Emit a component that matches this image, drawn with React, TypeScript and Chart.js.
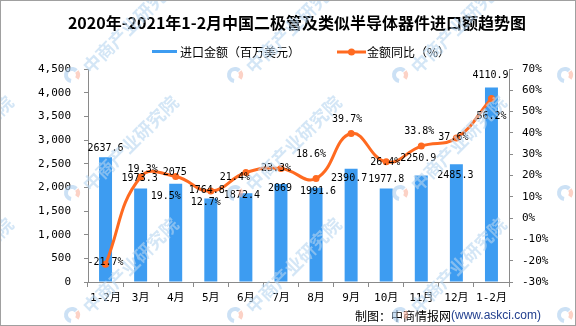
import React, { useEffect, useRef } from 'react';
import { Chart, registerables } from 'chart.js';

Chart.register(...registerables);

// ---- data ----
const categories = ['1-2月', '3月', '4月', '5月', '6月', '7月', '8月', '9月', '10月', '11月', '12月', '1-2月'];
const importValues = [2637.6, 1973.3, 2075, 1764.8, 1872.4, 2069, 1991.6, 2390.7, 1977.8, 2250.9, 2485.3, 4110.9];
const yoyValues = [-21.7, 19.3, 19.5, 12.7, 21.4, 23.3, 18.6, 39.7, 26.4, 33.8, 37.6, 56.2];
const leftAxis = { min: 0, max: 4500, step: 500 };
const rightAxis = { min: -30, max: 70, step: 10 };

const titleText = '2020年-2021年1-2月中国二极管及类似半导体器件进口额趋势图';
const barLegend = '进口金额（百万美元）';
const lineLegend = '金额同比（%）';
const footerA = '制图：中商情报网';
const footerB = '(www.askci.com)';
const watermarkText = '中商产业研究院';

// ---- label placement (layout only) ----
const barLabelOffsets: [number, number][] = [
  [0, -9], [-1, -10], [-1, -11], [-4, -8], [-4, 2], [-1, 4],
  [2, 4], [-2, 10], [0, -9], [-3, -17], [-1, 11], [-1, -12],
];
const lineLabelOffsets: [number, number][] = [
  [0, -2], [2, -8], [-10, 20], [-5, 11], [-11, 5], [-5, 0],
  [-5, -24], [-4, -14], [-1, 1], [-2, -15], [-3, -1], [0, 18],
];
const watermarkCols = [-93, 72, 235, 400, 565];
const watermarkRows = [75, 193, 315];

const BLUE = '#3D9CF1';
const ORANGE = '#FF6A20';
const AXIS = '#8A8A8A';
const MONO = "'DejaVu Sans Mono', 'Noto Sans CJK SC', monospace";
const CJK = "'Noto Sans CJK SC', sans-serif";

const decorPlugin = {
  id: 'decor',
  beforeDraw(chart: any) {
    const { ctx, width, height } = chart;
    ctx.save();
    ctx.fillStyle = '#ffffff';
    ctx.fillRect(0, 0, width, height);
    ctx.restore();
  },
  afterDatasetsDraw(chart: any) {
    const { ctx } = chart;
    ctx.save();
    ctx.font = `10px ${MONO}`;
    ctx.fillStyle = '#000';
    ctx.textAlign = 'center';
    ctx.textBaseline = 'middle';
    const barMeta = chart.getDatasetMeta(0);
    barMeta.data.forEach((el: any, i: number) => {
      const [dx, dy] = barLabelOffsets[i];
      ctx.fillText(String(importValues[i]), el.x + dx, el.y + dy);
    });
    const lineMeta = chart.getDatasetMeta(1);
    lineMeta.data.forEach((el: any, i: number) => {
      const [dx, dy] = lineLabelOffsets[i];
      ctx.fillText(yoyValues[i].toFixed(1) + '%', el.x + dx, el.y + dy);
    });
    ctx.restore();
  },
  afterDraw(chart: any) {
    const { ctx, width, height } = chart;
    ctx.save();
    // title
    ctx.fillStyle = '#000';
    ctx.font = `bold 16px ${CJK}`;
    ctx.textAlign = 'center';
    ctx.textBaseline = 'middle';
    ctx.fillText(titleText, 297, 23);
    // legend
    ctx.fillStyle = BLUE;
    ctx.fillRect(152, 50, 25, 3);
    ctx.fillStyle = '#000';
    ctx.font = `12px ${CJK}`;
    ctx.textAlign = 'left';
    ctx.fillText(barLegend, 180, 52);
    ctx.strokeStyle = ORANGE;
    ctx.lineWidth = 3;
    ctx.beginPath();
    ctx.moveTo(337, 52);
    ctx.lineTo(366, 52);
    ctx.stroke();
    ctx.fillStyle = ORANGE;
    ctx.beginPath();
    ctx.arc(351.5, 52, 3.5, 0, Math.PI * 2);
    ctx.fill();
    ctx.fillStyle = '#000';
    ctx.fillText(lineLegend, 367, 52);
    // footer
    ctx.font = `12px ${CJK}`;
    ctx.fillText(footerA, 355, 316);
    const wA = ctx.measureText(footerA).width;
    ctx.fillStyle = '#23408F';
    ctx.font = `12px 'Liberation Sans', sans-serif`;
    ctx.fillText(footerB, 355 + wA, 316);
    // watermarks
    for (const ly of watermarkRows) {
      for (const lx of watermarkCols) {
        // logo
        ctx.lineWidth = 4;
        ctx.strokeStyle = 'rgba(170,205,238,0.6)';
        ctx.beginPath();
        ctx.arc(lx, ly, 6, Math.PI * 0.55, Math.PI * 1.75);
        ctx.stroke();
        ctx.strokeStyle = 'rgba(250,180,160,0.6)';
        ctx.beginPath();
        ctx.arc(lx, ly, 6, Math.PI * 1.8, Math.PI * 2.2);
        ctx.stroke();
        // text
        ctx.save();
        ctx.translate(lx + 14, ly - 5);
        ctx.rotate(-Math.PI / 4);
        ctx.fillStyle = 'rgba(183,213,240,0.6)';
        ctx.font = `bold 18px ${CJK}`;
        ctx.textAlign = 'left';
        ctx.textBaseline = 'middle';
        ctx.fillText(watermarkText, 0, 0);
        ctx.restore();
      }
    }
    // border
    ctx.strokeStyle = '#A0A0A0';
    ctx.lineWidth = 1;
    ctx.strokeRect(0.5, 0.5, width - 1, height - 1);
    ctx.restore();
  },
};

export default function App() {
  const canvasRef = useRef<HTMLCanvasElement | null>(null);

  useEffect(() => {
    document.body.style.margin = '0';
    const canvas = canvasRef.current;
    if (!canvas) return;
    const chart = new Chart(canvas, {
      type: 'bar',
      data: {
        labels: categories,
        datasets: [
          {
            type: 'bar',
            label: barLegend,
            data: importValues,
            backgroundColor: BLUE,
            yAxisID: 'y',
            barPercentage: 0.37,
            categoryPercentage: 1,
            order: 2,
          },
          {
            type: 'line',
            label: lineLegend,
            data: yoyValues,
            borderColor: ORANGE,
            backgroundColor: ORANGE,
            borderWidth: 3,
            pointRadius: 3.5,
            pointBackgroundColor: ORANGE,
            pointBorderColor: ORANGE,
            pointBorderWidth: 0,
            tension: 0.45,
            yAxisID: 'y1',
            order: 1,
          } as any,
        ],
      },
      options: {
        responsive: false,
        animation: false,
        devicePixelRatio: 1,
        layout: { padding: { top: 69, left: 0, right: 0, bottom: 0 } },
        plugins: {
          legend: { display: false },
          title: { display: false },
          tooltip: { enabled: false },
        },
        scales: {
          x: {
            offset: true,
            grid: {
              offset: true,
              drawOnChartArea: false,
              drawTicks: true,
              tickLength: 5,
              color: AXIS,
            },
            border: { color: AXIS },
            ticks: {
              color: '#000',
              font: { family: MONO, size: 11 },
              padding: 5,
              maxRotation: 0,
              autoSkip: false,
            },
            afterFit: (s: any) => {
              s.height = 44;
            },
          },
          y: {
            position: 'left',
            min: leftAxis.min,
            max: leftAxis.max,
            grid: { drawOnChartArea: false, tickLength: 4, color: AXIS },
            border: { color: AXIS },
            ticks: {
              stepSize: leftAxis.step,
              color: '#000',
              font: { family: MONO, size: 11 },
              padding: 13,
              callback: (v: any) => Number(v).toLocaleString('en-US'),
            },
            afterFit: (s: any) => {
              s.width = 88;
            },
          },
          y1: {
            position: 'right',
            min: rightAxis.min,
            max: rightAxis.max,
            grid: { drawOnChartArea: false, tickLength: 4, color: AXIS },
            border: { color: AXIS },
            ticks: {
              stepSize: rightAxis.step,
              color: '#000',
              font: { family: MONO, size: 11 },
              padding: 9,
              callback: (v: any) => `${v}%`,
            },
            afterFit: (s: any) => {
              s.width = 67;
            },
          },
        },
      },
      plugins: [decorPlugin],
    });
    return () => chart.destroy();
  }, []);

  return (
    <div style={{ width: 576, height: 326 }}>
      <canvas ref={canvasRef} width={576} height={326} style={{ display: 'block' }} />
    </div>
  );
}
